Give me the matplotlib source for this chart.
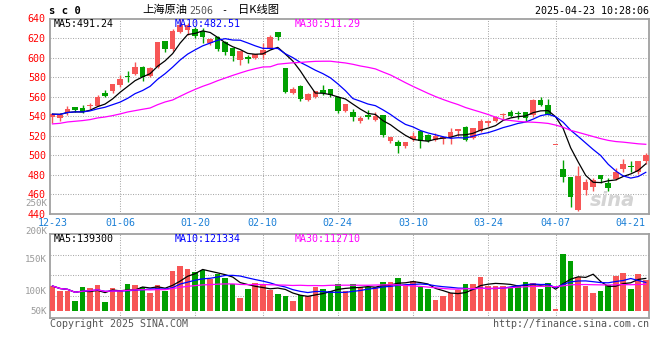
# -*- coding: utf-8 -*-
import numpy as np
import pandas as pd
import matplotlib
matplotlib.use('Agg')
import matplotlib.pyplot as plt

# 日K (2024-12-23 .. 2025-04-23)
open_ = [539.5, 538.5, 543.0, 549.0, 548.7, 550.3, 550.7, 563.3, 565.7, 571.5,
         581.4, 583.5, 590.0, 580.7, 590.3, 616.6, 609.1, 626.1, 627.8, 628.9,
         626.8, 614.5, 620.7, 616.0, 609.8, 597.5, 600.5, 599.5, 603.0, 609.8,
         625.8, 589.3, 563.3, 570.5, 556.2, 559.6, 566.4, 567.4, 559.9, 544.9,
         544.6, 535.4, 541.5, 536.4, 540.8, 514.2, 513.5, 509.4, 516.3, 525.1,
         520.3, 515.6, 516.9, 518.3, 524.4, 528.5, 517.6, 524.4, 533.3, 534.7,
         540.8, 544.2, 542.9, 544.2, 540.8, 556.2, 551.0, 510.1, 486.2, 477.7,
         444.2, 464.4, 467.4, 480.0, 471.9, 475.3, 486.2, 488.9, 482.8, 494.0]
high = [543.5, 543.0, 550.0, 549.5, 551.7, 553.0, 562.0, 566.7, 573.2, 581.8,
        585.9, 595.4, 591.3, 590.3, 616.0, 616.6, 628.9, 639.8, 635.7, 631.3,
        630.2, 620.0, 622.0, 616.6, 609.8, 606.7, 602.3, 604.0, 614.5, 622.7,
        625.8, 589.3, 569.8, 571.5, 563.7, 566.1, 571.5, 568.1, 560.6, 552.7,
        547.6, 540.0, 546.6, 544.2, 540.8, 519.0, 515.2, 513.2, 523.5, 526.1,
        521.4, 523.1, 519.0, 528.2, 526.5, 529.6, 527.5, 537.4, 536.4, 540.1,
        542.9, 545.9, 544.9, 544.2, 557.2, 559.9, 557.2, 510.1, 494.7, 477.7,
        488.6, 475.6, 476.7, 480.0, 476.7, 486.9, 496.5, 494.0, 494.0, 502.6]
low = [533.0, 534.5, 541.5, 544.5, 543.2, 546.8, 550.0, 560.0, 564.0, 570.2,
       575.0, 582.5, 576.0, 580.0, 589.3, 605.7, 607.0, 625.0, 623.4, 620.0,
       614.9, 612.5, 606.3, 603.0, 596.8, 592.7, 594.4, 598.8, 598.2, 609.1,
       618.0, 563.3, 562.3, 555.8, 555.2, 558.6, 561.3, 559.6, 543.5, 543.9,
       534.7, 533.3, 537.4, 535.4, 519.0, 512.5, 502.3, 507.4, 514.2, 507.4,
       513.5, 514.9, 511.5, 511.5, 519.7, 514.2, 516.9, 523.8, 529.9, 534.0,
       536.7, 539.1, 537.4, 534.7, 539.5, 550.4, 540.8, 510.1, 472.6, 447.0,
       443.2, 459.6, 463.3, 471.5, 463.0, 474.3, 482.8, 482.8, 481.1, 491.3]
close = [542.0, 541.5, 547.5, 546.3, 544.0, 550.7, 560.0, 560.6, 572.6, 578.0,
         580.4, 590.0, 579.7, 589.3, 615.9, 608.4, 626.8, 633.7, 633.0, 622.0,
         621.0, 618.6, 608.4, 605.7, 601.6, 606.7, 598.8, 604.0, 607.7, 621.0,
         620.7, 564.7, 568.1, 557.2, 562.7, 565.4, 563.7, 561.3, 545.3, 552.0,
         539.1, 538.1, 539.1, 540.1, 520.3, 518.3, 509.4, 513.2, 519.7, 514.9,
         514.2, 519.7, 519.0, 523.8, 526.5, 515.2, 527.5, 534.7, 534.7, 539.1,
         541.8, 540.1, 541.8, 537.7, 556.2, 551.0, 541.5, 510.1, 477.7, 457.2,
         478.4, 472.9, 474.9, 476.0, 466.4, 482.8, 490.6, 487.9, 494.0, 499.9]
volume = [106100, 84600, 84600, 41600, 101800, 97500, 110400, 37300, 97500, 84600,
          114700, 110400, 101800, 76000, 110400, 84600, 172000, 192100, 180600, 166300,
          174900, 134700, 156200, 141900, 114700, 55900, 93200, 119000, 114700, 87400,
          71700, 64500, 41600, 67400, 63100, 101800, 93200, 84600, 114700, 84600,
          114700, 101800, 101800, 101800, 123300, 123300, 140500, 110400, 127600, 101800,
          93200, 45900, 63100, 76000, 88900, 114700, 114700, 144800, 106100, 106100,
          106100, 101800, 110400, 123300, 119000, 93200, 119000, 7200, 243700, 213600,
          144800, 106100, 76000, 84600, 110400, 149100, 162000, 93200, 157700, 131900]
# MA30 before a full 30-day window
ma30_head = [532.0, 532.6, 534.0, 534.7, 535.4, 536.4, 538.1, 539.1, 540.5, 542.2,
             544.2, 545.6, 547.0, 548.3, 551.7, 554.5, 556.5, 560.3, 564.0, 567.4,
             570.5, 573.2, 576.3, 579.0, 581.7, 584.2, 586.6, 588.6, 590.3]

tick_idx = [0, 9, 19, 28, 38, 48, 58, 67, 77]
tick_lbl = ['12-23', '01-06', '01-20', '02-10', '02-24', '03-10', '03-24', '04-07', '04-21']
grid_idx = [9, 19, 28, 38, 48, 58, 67]
price_ticks = [440, 460, 480, 500, 520, 540, 560, 580, 600, 620, 640]
vol_grid = [64500, 153000, 239000]
vol_lbl = ['250K', '200K', '150K', '100K', '50K']
vol_lbl_y = [203, 231, 259, 291, 311]   # pixel rows of the volume labels

W, H = 660, 360
MONO = 'DejaVu Sans Mono'
CJK = ['Noto Sans CJK SC', 'DejaVu Sans']
RED = '#f75656'
GREEN = '#00a000'
GRID = '#aaaaaa'
FRAME = '#a0a0a0'
DOT = (0, (1, 1.4))


def fx(x):
    return x / W


def fy(y):
    return 1 - y / H


def main():
    o = np.array(open_); h = np.array(high); l = np.array(low); c = np.array(close)
    v = np.array(volume, dtype=float)
    n = len(c)
    x = np.arange(n)
    up = c >= o
    colors = np.where(up, RED, GREEN)

    ma5 = pd.Series(c).rolling(5, min_periods=1).mean().to_numpy()
    ma10 = pd.Series(c).rolling(10, min_periods=1).mean().to_numpy()
    ma30 = pd.Series(c).rolling(30, min_periods=1).mean().to_numpy()
    ma30[:len(ma30_head)] = ma30_head
    vma5 = pd.Series(v).rolling(5, min_periods=1).mean().to_numpy()
    vma10 = pd.Series(v).rolling(10, min_periods=1).mean().to_numpy()
    vma30 = pd.Series(v).rolling(30, min_periods=1).mean().to_numpy()

    fig = plt.figure(figsize=(W / 100, H / 100), dpi=100)
    ax = fig.add_axes([fx(50), fy(213.7), fx(649) - fx(50), fy(18.5) - fy(213.7)])
    axv = fig.add_axes([fx(50), fy(318.3), fx(649) - fx(50), fy(234) - fy(318.3)])

    xmin, xmax = -0.33, 79.43

    # ---- K线
    ax.vlines(x, l, h, colors=colors, linewidth=1.0, zorder=3)
    body = np.maximum(np.abs(c - o), 0.9)
    ax.bar(x, body, bottom=np.minimum(o, c), width=0.74, color=colors, linewidth=0, zorder=4)
    ax.plot(x, ma5, color='black', lw=0.9, zorder=5)
    ax.plot(x, ma10, color='#0000ff', lw=0.9, zorder=5)
    ax.plot(x, ma30, color='#ff00ff', lw=0.9, zorder=5)

    ax.set_xlim(xmin, xmax)
    ax.set_ylim(440, 640)
    ax.set_yticks(price_ticks)
    ax.set_yticklabels([str(p) for p in price_ticks], color='red', fontfamily=MONO, fontsize=7.2)
    ax.set_xticks(tick_idx)
    ax.set_xticklabels(tick_lbl, color='#1a7fd6', fontfamily=MONO, fontsize=7.2)
    ax.tick_params(length=0, pad=3)
    for p in price_ticks[1:-1]:
        ax.axhline(p, color=GRID, lw=0.75, ls=DOT, zorder=1)
    for t in grid_idx:
        ax.axvline(t, color=GRID, lw=0.75, ls=DOT, zorder=1)

    # ---- 成交量
    axv.bar(x, v, width=0.74, color=colors, linewidth=0, zorder=3)
    axv.plot(x, vma5, color='black', lw=0.9, zorder=5)
    axv.plot(x, vma10, color='#0000ff', lw=0.9, zorder=5)
    axv.plot(x, vma30, color='#ff00ff', lw=0.9, zorder=5)
    axv.set_xlim(xmin, xmax)
    axv.set_ylim(-32800, 329700)
    axv.set_xticks([])
    axv.set_yticks([])
    for g in vol_grid:
        axv.axhline(g, color=GRID, lw=0.75, ls=DOT, zorder=1)
    for t in grid_idx:
        axv.axvline(t, color=GRID, lw=0.75, ls=DOT, zorder=1)

    for a in (ax, axv):
        for s in a.spines.values():
            s.set_color(FRAME)
            s.set_linewidth(1.3)

    # ---- texts
    fig.text(fx(49), fy(11), 's c 0', fontfamily=MONO, fontweight='bold', fontsize=7.6, va='center')
    fig.text(fx(142), fy(10), '上海原油', family=CJK, fontsize=8.1, va='center')
    fig.text(fx(189), fy(11), '2506', fontfamily=MONO, fontsize=7.2, color='#555555', va='center')
    fig.text(fx(224), fy(10), '-', fontfamily=MONO, fontsize=7.2, va='center', ha='center')
    fig.text(fx(238), fy(10), '日K线图', family=CJK, fontsize=8.1, va='center')
    fig.text(fx(649), fy(11.2), '2025-04-23 10:28:06', fontfamily=MONO, fontsize=7.2, ha='right', va='center')

    fig.text(fx(54), fy(23.7), 'MA5:491.24', fontfamily=MONO, fontsize=7.2, va='center')
    fig.text(fx(174.3), fy(23.7), 'MA10:482.51', fontfamily=MONO, fontsize=7.2, va='center', color='#0000ff')
    fig.text(fx(295), fy(23.7), 'MA30:511.29', fontfamily=MONO, fontsize=7.2, va='center', color='#ff00ff')
    fig.text(fx(54), fy(239), 'MA5:139300', fontfamily=MONO, fontsize=7.2, va='center')
    fig.text(fx(174.3), fy(239), 'MA10:121334', fontfamily=MONO, fontsize=7.2, va='center', color='#0000ff')
    fig.text(fx(295), fy(239), 'MA30:112710', fontfamily=MONO, fontsize=7.2, va='center', color='#ff00ff')

    for lb, yy in zip(vol_lbl, vol_lbl_y):
        fig.text(fx(47), fy(yy), lb, fontfamily=MONO, fontsize=6.6, color='#999999', ha='right', va='center')

    fig.text(fx(50), fy(324), 'Copyright 2025 SINA.COM', fontfamily=MONO, fontsize=7.2, color='#555555', va='center')
    fig.text(fx(649), fy(324), 'http://finance.sina.com.cn', fontfamily=MONO, fontsize=7.2, color='#555555',
             ha='right', va='center')
    # 水印
    fig.text(fx(612), fy(200), 'sina', fontsize=14, fontweight='bold', style='italic', color='#d4d4d4',
             ha='center', va='center')

    fig.savefig('out.png', dpi=100)


if __name__ == '__main__':
    main()
